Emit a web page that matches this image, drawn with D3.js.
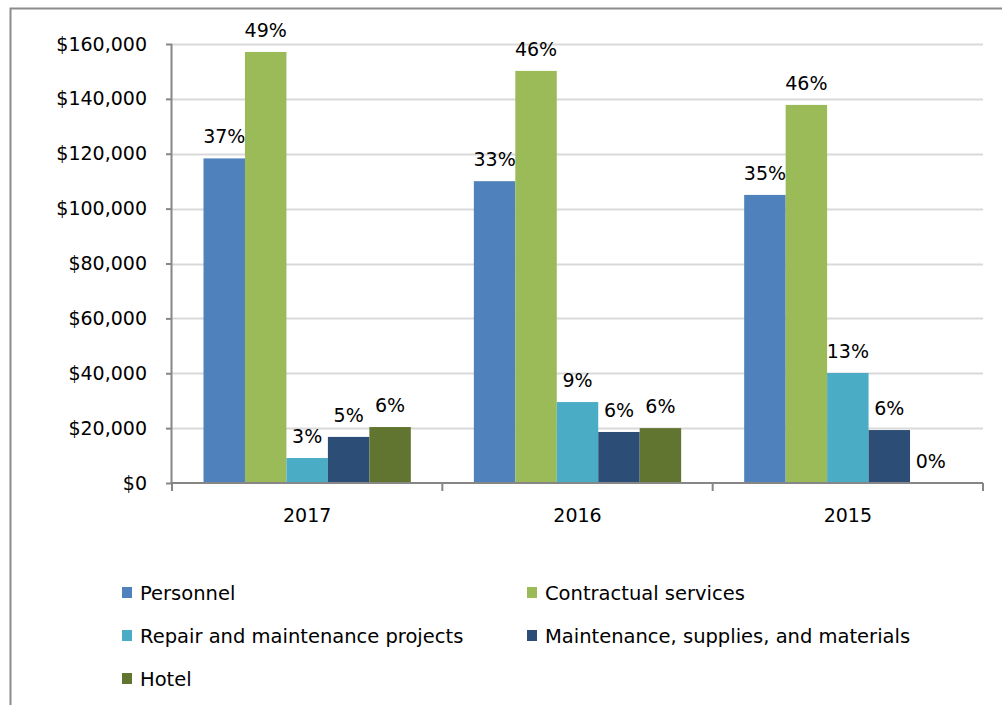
<!DOCTYPE html>
<html>
<head>
<meta charset="utf-8">
<script src="https://cdn.jsdelivr.net/npm/d3@7"></script>
<style>
  body { margin: 0; background: #fff; }
  text { font-family: "DejaVu Sans", sans-serif; fill: #000; }
</style>
</head>
<body>
<svg id="chart"></svg>
<script>
// data
const years = ["2017", "2016", "2015"];
const seriesNames = [
  "Personnel",
  "Contractual services",
  "Repair and maintenance projects",
  "Maintenance, supplies, and materials",
  "Hotel"
];
const seriesColors = ["#4f81bd", "#9bbb59", "#4bacc6", "#2c4d75", "#627530"];
const personnel = [118300, 110000, 105000];
const contractual = [157100, 150200, 137800];
const repair = [9100, 29500, 40100];
const maintSupplies = [16800, 18600, 19300];
const hotel = [20400, 20000, 0];
const shares = [
  ["37%", "33%", "35%"],
  ["49%", "46%", "46%"],
  ["3%", "9%", "13%"],
  ["5%", "6%", "6%"],
  ["6%", "6%", "0%"]
];
const yTicks = [0, 20000, 40000, 60000, 80000, 100000, 120000, 140000, 160000];

const seriesValues = [personnel, contractual, repair, maintSupplies, hotel];

const config = {
  width: 1002,
  height: 705,
  margin: { top: 44, right: 19, bottom: 222, left: 172 },
  get usableWidth() {
    return this.width - this.margin.left - this.margin.right;
  },
  get usableHeight() {
    return this.height - this.margin.top - this.margin.bottom;
  }
};

const svg = d3.select("#chart")
  .attr("width", config.width)
  .attr("height", config.height);

// outer chart frame (clipped by the window on the right and bottom)
svg.append("rect")
  .attr("x", 10.5).attr("y", 8.5)
  .attr("width", 1100).attr("height", 900)
  .attr("fill", "none")
  .attr("stroke", "#8c8c8c")
  .attr("stroke-width", 2);

const g = svg.append("g")
  .attr("transform", `translate(${config.margin.left},${config.margin.top})`);

const x0 = d3.scaleBand()
  .domain(years)
  .range([0, config.usableWidth])
  .paddingInner(0)
  .paddingOuter(0);

const x1 = d3.scaleBand()
  .domain(d3.range(seriesNames.length))
  .range([0, x0.bandwidth()])
  .paddingInner(0)
  .paddingOuter(0.76);

const y = d3.scaleLinear()
  .domain([0, 160000])
  .range([config.usableHeight, 0]);

// gridlines
g.append("g")
  .selectAll("line")
  .data(yTicks.slice(1))
  .join("line")
  .attr("x1", 0)
  .attr("x2", config.usableWidth)
  .attr("y1", d => Math.round(y(d)) + 0.5)
  .attr("y2", d => Math.round(y(d)) + 0.5)
  .attr("stroke", "#d9d9d9")
  .attr("stroke-width", 2);

// bars
const groups = g.append("g")
  .selectAll("g")
  .data(years)
  .join("g")
  .attr("transform", d => `translate(${x0(d)},0)`);

groups.selectAll("rect")
  .data((d, i) => seriesValues.map((vals, s) => ({ s, v: vals[i] })))
  .join("rect")
  .attr("x", d => x1(d.s))
  .attr("width", x1.bandwidth())
  .attr("y", d => y(d.v))
  .attr("height", d => y(0) - y(d.v))
  .attr("fill", d => seriesColors[d.s]);

groups.selectAll("text")
  .data((d, i) => seriesValues.map((vals, s) => ({ s, v: vals[i], label: shares[s][i] })))
  .join("text")
  .attr("x", d => x1(d.s) + x1.bandwidth() / 2)
  .attr("y", d => y(d.v) - 15)
  .attr("text-anchor", "middle")
  .attr("font-size", 19)
  .text(d => d.label);

// y axis
const yAxis = g.append("g")
  .call(d3.axisLeft(y)
    .tickValues(yTicks)
    .tickSize(6)
    .tickPadding(19)
    .tickFormat(d => "$" + d3.format(",")(d)));
yAxis.select(".domain").attr("stroke", "#868686").attr("stroke-width", 2)
  .attr("d", `M-0.5,${config.usableHeight}V0`);
yAxis.selectAll(".tick line").attr("stroke", "#868686").attr("stroke-width", 2);
yAxis.selectAll(".tick text")
  .attr("font-size", 19)
  .attr("font-family", "DejaVu Sans")
  .attr("fill", "#000");

// x axis
const xAxis = g.append("g")
  .attr("transform", `translate(0,${config.usableHeight})`);
xAxis.append("line")
  .attr("x1", -1).attr("x2", config.usableWidth)
  .attr("y1", 0).attr("y2", 0)
  .attr("stroke", "#868686").attr("stroke-width", 2);
xAxis.selectAll(".sep")
  .data(d3.range(years.length + 1))
  .join("line")
  .attr("class", "sep")
  .attr("x1", d => d * x0.bandwidth())
  .attr("x2", d => d * x0.bandwidth())
  .attr("y1", 0).attr("y2", 8)
  .attr("stroke", "#868686").attr("stroke-width", 2);
xAxis.selectAll(".lbl")
  .data(years)
  .join("text")
  .attr("class", "lbl")
  .attr("x", d => x0(d) + x0.bandwidth() / 2)
  .attr("y", 39)
  .attr("text-anchor", "middle")
  .attr("font-size", 19)
  .text(d => d);

// legend
const legendCols = [122, 527];
const legendRows = [593, 636, 679];
const legend = svg.append("g")
  .selectAll("g")
  .data(seriesNames)
  .join("g")
  .attr("transform", (d, i) => `translate(${legendCols[i % 2]},${legendRows[Math.floor(i / 2)]})`);
legend.append("rect")
  .attr("x", 0).attr("y", -6)
  .attr("width", 10).attr("height", 11)
  .attr("fill", (d, i) => seriesColors[i]);
legend.append("text")
  .attr("x", 18)
  .attr("y", 7)
  .attr("font-size", 19.5)
  .text(d => d);
</script>
</body>
</html>
